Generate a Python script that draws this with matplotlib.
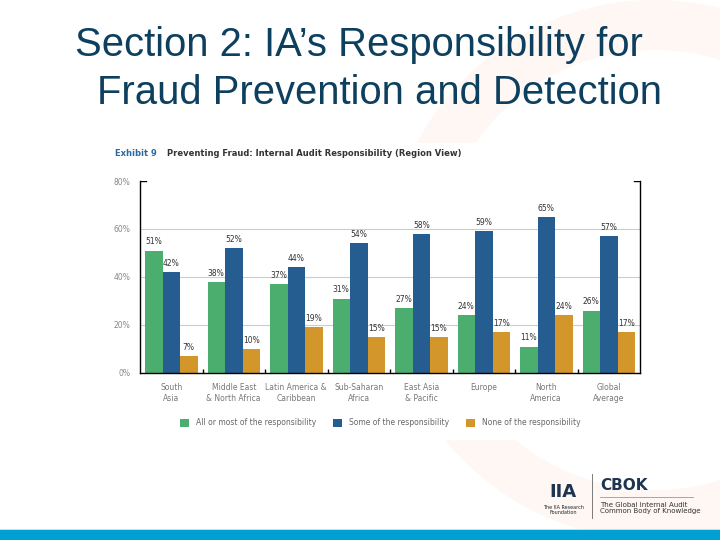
import numpy as np
import matplotlib
matplotlib.use("Agg")
import matplotlib.pyplot as plt
from matplotlib.patches import Rectangle, Wedge

# chart data (percent)
regions = ["South\nAsia", "Middle East\n& North Africa", "Latin America &\nCaribbean",
           "Sub-Saharan\nAfrica", "East Asia\n& Pacific", "Europe", "North\nAmerica",
           "Global\nAverage"]
allMost = [51, 38, 37, 31, 27, 24, 11, 26]
someResp = [42, 52, 44, 54, 58, 59, 65, 57]
noneResp = [7, 10, 19, 15, 15, 17, 24, 17]
seriesNames = ["All or most of the responsibility", "Some of the responsibility",
               "None of the responsibility"]
yTicks = [0, 20, 40, 60, 80]

green = "#4cae6e"
blue = "#255d91"
orange = "#d3962b"
navy = "#0d3f5f"

W, H = 720, 540
fig = plt.figure(figsize=(7.2, 5.4), dpi=100)
fig.patch.set_facecolor("white")

# faint watermark ring behind everything
bg = fig.add_axes([0, 0, 1, 1], zorder=-5)
bg.set_xlim(0, W)
bg.set_ylim(H, 0)
bg.axis("off")
bg.add_patch(Wedge((655, 270), 270, 0, 360, width=50, color="#fef7f3", lw=0))
bg.add_patch(Rectangle((105, 143), 540, 297, color="white", lw=0))

# slide title
fig.text(75 / W, 1 - 45 / H, "Section 2: IA\u2019s Responsibility for",
         family="Liberation Sans", fontsize=28.8, color=navy, va="center", ha="left")
fig.text(97 / W, 1 - 93 / H, "Fraud Prevention and Detection",
         family="Liberation Sans", fontsize=28.8, color=navy, va="center", ha="left")

# exhibit header
fig.text(115 / W, 1 - 153 / H, "Exhibit 9", fontsize=6, weight="bold", color="#2b6aa0",
         va="center", ha="left")
fig.text(167 / W, 1 - 153 / H, "Preventing Fraud: Internal Audit Responsibility (Region View)",
         fontsize=6, weight="bold", color="#333333", va="center", ha="left")

ax = fig.add_axes([140 / W, 1 - 373 / H, 500 / W, 192 / H])
ax.patch.set_alpha(0)
x = np.arange(len(regions))
bw = 0.28
b1 = ax.bar(x - bw, allMost, bw, color=green, label=seriesNames[0])
b2 = ax.bar(x, someResp, bw, color=blue, label=seriesNames[1])
b3 = ax.bar(x + bw, noneResp, bw, color=orange, label=seriesNames[2])

for bars, vals in [(b1, allMost), (b2, someResp), (b3, noneResp)]:
    for r, v in zip(bars, vals):
        ax.annotate("%d%%" % v, (r.get_x() + r.get_width() / 2, v), xytext=(0, 3),
                    textcoords="offset points", ha="center", va="bottom",
                    fontsize=5.5, color="#333333")

ax.set_xlim(-0.5, len(regions) - 0.5)
ax.set_ylim(0, 80)
ax.set_yticks(yTicks)
ax.set_yticklabels(["%d%%" % t for t in yTicks], fontsize=5.5, color="#888888")
ax.set_xticks(x)
ax.set_xticklabels(regions, fontsize=5.5, color="#777777", linespacing=1.3)
ax.tick_params(axis="both", length=0, pad=7)
ax.set_xticks(np.arange(0.5, len(regions) - 0.5, 1), minor=True)
ax.tick_params(axis="x", which="minor", direction="in", length=3, width=1, color="black")
for t in yTicks[1:-1]:
    ax.axhline(t, color="#cccccc", lw=0.8, zorder=0)
ax.axhline(80, xmin=0, xmax=0.012, color="black", lw=1)
ax.axhline(80, xmin=0.988, xmax=1, color="black", lw=1)
ax.spines["top"].set_visible(False)
for s in ["left", "right", "bottom"]:
    ax.spines[s].set_linewidth(1)

leg = ax.legend(loc="upper center", bbox_to_anchor=(0.48, -0.2), ncol=3, frameon=False,
                fontsize=5.5, handlelength=1.2, handleheight=1.2, columnspacing=2.2,
                handletextpad=0.9)
for t in leg.get_texts():
    t.set_color("#666666")

# logo area
fig.text(600 / W, 1 - 486 / H, "CBOK", fontsize=11, weight="bold", color="#1d3550",
         va="center", ha="left")
fig.add_artist(plt.Line2D([600 / W, 693 / W], [1 - 497 / H, 1 - 497 / H],
                          color="#999999", lw=0.6))
fig.text(600 / W, 1 - 508 / H, "The Global Internal Audit\nCommon Body of Knowledge",
         fontsize=5, color="#333333", va="center", ha="left", linespacing=1.1)
fig.add_artist(plt.Line2D([592 / W, 592 / W], [1 - 474 / H, 1 - 518 / H],
                          color="#666666", lw=0.6))
fig.text(563 / W, 1 - 492 / H, "IIA", fontsize=13, weight="bold", color="#1d3550",
         va="center", ha="center")
fig.text(563 / W, 1 - 510 / H, "The IIA Research\nFoundation", fontsize=3.5,
         color="#222222", va="center", ha="center", linespacing=1.0)

# bottom band
fig.add_artist(Rectangle((0, 0), 1, 10 / H, transform=fig.transFigure,
                         color="#00a0d2", lw=0))
fig.add_artist(Rectangle((0, 10 / H), 1, 1.5 / H, transform=fig.transFigure,
                         color="#b8e4f4", lw=0))

fig.savefig("out.png", dpi=100)
